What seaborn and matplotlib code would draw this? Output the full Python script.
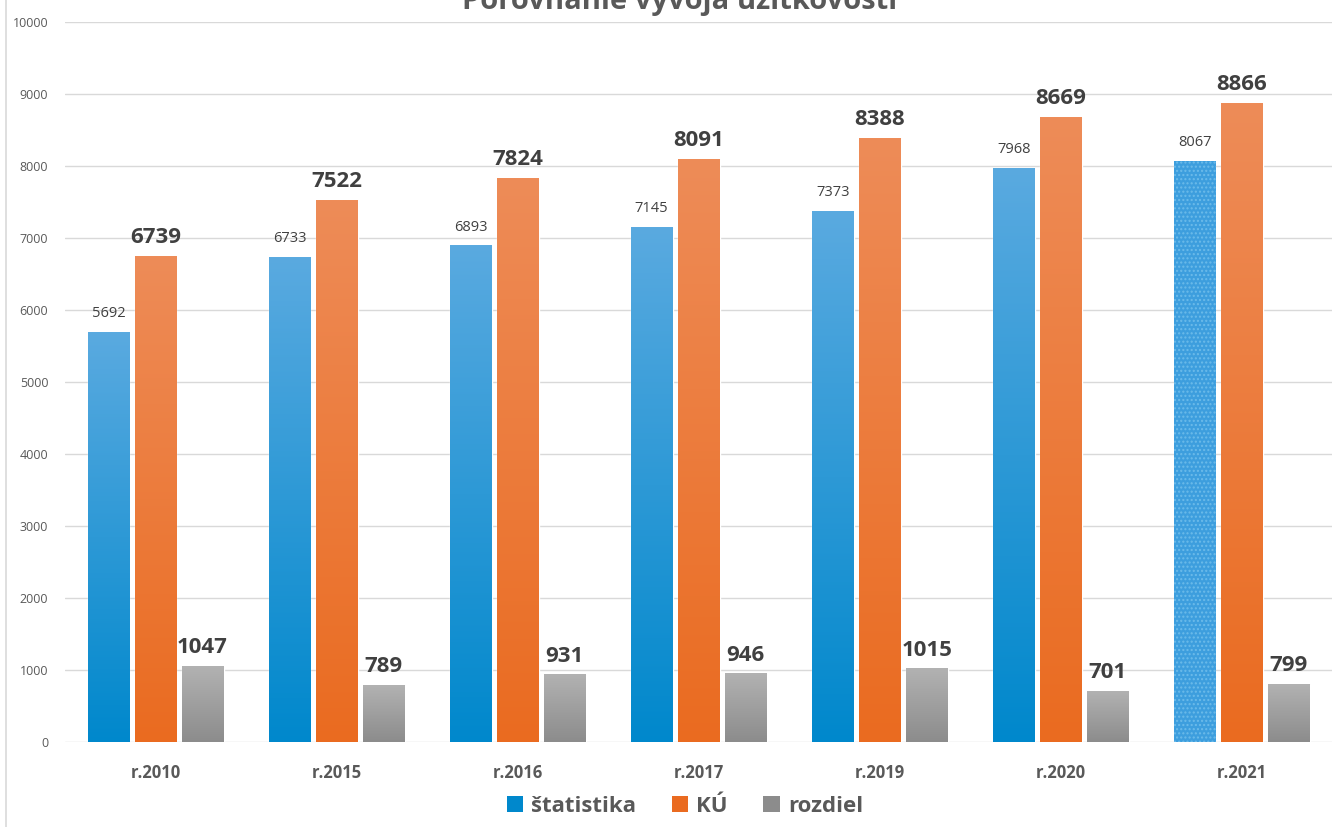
import numpy as np
import pandas as pd
import matplotlib
matplotlib.use("Agg")
import matplotlib.pyplot as plt
from matplotlib.patches import Patch
from matplotlib.colors import LinearSegmentedColormap
import seaborn as sns

# Data
years = ["r.2010", "r.2015", "r.2016", "r.2017", "r.2019", "r.2020", "r.2021"]
statistika = [5692, 6733, 6893, 7145, 7373, 7968, 8067]
ku = [6739, 7522, 7824, 8091, 8388, 8669, 8866]
rozdiel = [1047, 789, 931, 946, 1015, 701, 799]
series_names = ["štatistika", "KÚ", "rozdiel"]
y_ticks = list(range(0, 10001, 1000))

df = pd.DataFrame({
    "rok": years * 3,
    "hodnota": statistika + ku + rozdiel,
    "rad": [series_names[0]] * 7 + [series_names[1]] * 7 + [series_names[2]] * 7,
})

base_colors = {"štatistika": "#1a94d6", "KÚ": "#ec7430", "rozdiel": "#a0a0a0"}
# (top, bottom) colours for the vertical gradient of each series
grad_colors = {
    "štatistika": ("#5aaae0", "#0088cc"),
    "KÚ": ("#ee8c58", "#ea6b20"),
    "rozdiel": ("#b2b2b2", "#8c8c8c"),
}

sns.set_style("white")
plt.rcParams["font.family"] = ["Open Sans", "DejaVu Sans"]

fig = plt.figure(figsize=(13.35, 8.27), dpi=100)
ax = fig.add_axes([0.0487, 0.1028, 0.9493, 0.8706])

sns.barplot(data=df, x="rok", y="hodnota", hue="rad", order=years,
            hue_order=series_names, palette=base_colors, width=0.78, gap=0.11,
            errorbar=None, legend=False, ax=ax, zorder=2)

# Gradient fill over each bar
for cont, name in zip(ax.containers, series_names):
    top_c, bot_c = grad_colors[name]
    cmap = LinearSegmentedColormap.from_list(name, [bot_c, top_c])
    for i, bar in enumerate(cont):
        x0 = bar.get_x()
        w = bar.get_width()
        h = bar.get_height()
        if name == "štatistika" and i == len(years) - 1:
            # last bar keeps a flat fill with a fine dotted texture
            bar.set_facecolor("#3d9ede")
            bar.set_edgecolor("#6cbbea")
            bar.set_hatch("....")
            bar.set_linewidth(0)
            continue
        grad = np.linspace(0, 1, 256).reshape(-1, 1)
        ax.imshow(grad, extent=[x0, x0 + w, 0, h], origin="lower",
                  aspect="auto", cmap=cmap, zorder=2.5)
        # soft shadow under bar
        ax.add_patch(plt.Rectangle((x0 + w * 0.03, -35), w, 35,
                                   color="#7a7a7a", alpha=0.45, zorder=1.8,
                                   linewidth=0))

ax.set_ylim(0, 10000)
ax.set_xlim(-0.5, len(years) - 0.5)

# Value labels
for cont, name in zip(ax.containers, series_names):
    for bar, val in zip(cont, cont.datavalues):
        xc = bar.get_x() + bar.get_width() / 2
        if name == "štatistika":
            ax.annotate(f"{int(val)}", (xc, val), xytext=(0, 8),
                        textcoords="offset points", ha="center", va="bottom",
                        fontsize=10.5, color="#404040", zorder=5)
        else:
            ax.annotate(f"{int(val)}", (xc, val), xytext=(0, 6),
                        textcoords="offset points", ha="center", va="bottom",
                        fontsize=16, fontweight="bold", color="#404040",
                        zorder=5)

# Axes styling
ax.set_yticks(y_ticks)
ax.set_yticklabels([str(t) for t in y_ticks], fontsize=9, color="#595959")
ax.set_xticks(range(len(years)))
ax.set_xticklabels(years, fontsize=12, fontweight="bold", color="#595959")
ax.tick_params(axis="y", length=0, pad=12)
ax.tick_params(axis="x", length=0, pad=16)
ax.yaxis.grid(True, color="#d9d9d9", linewidth=1)
ax.set_axisbelow(True)
ax.set_xlabel("")
ax.set_ylabel("")
for s in ax.spines.values():
    s.set_visible(False)

# Title (runs off the top edge)
fig.text(0.509, 1 - 9 / 827, "Porovnanie vývoja úžitkovosti", ha="center",
         va="baseline", fontsize=21, fontweight="bold", color="#595959")

# Chart-area border on the left
fig.add_artist(plt.Line2D([6 / 1335, 6 / 1335], [0, 1], color="#d9d9d9",
                          linewidth=1.2, transform=fig.transFigure))

handles = [Patch(facecolor=grad_colors[n][1], edgecolor="none") for n in series_names]
fig.legend(handles, series_names, loc="center", bbox_to_anchor=(0.513, 0.025),
           ncol=3, frameon=False, handlelength=0.75, handleheight=0.75,
           handletextpad=0.35, columnspacing=1.6,
           prop={"size": 16, "weight": "bold"}, labelcolor="#595959")

fig.savefig("out.png", dpi=100)
